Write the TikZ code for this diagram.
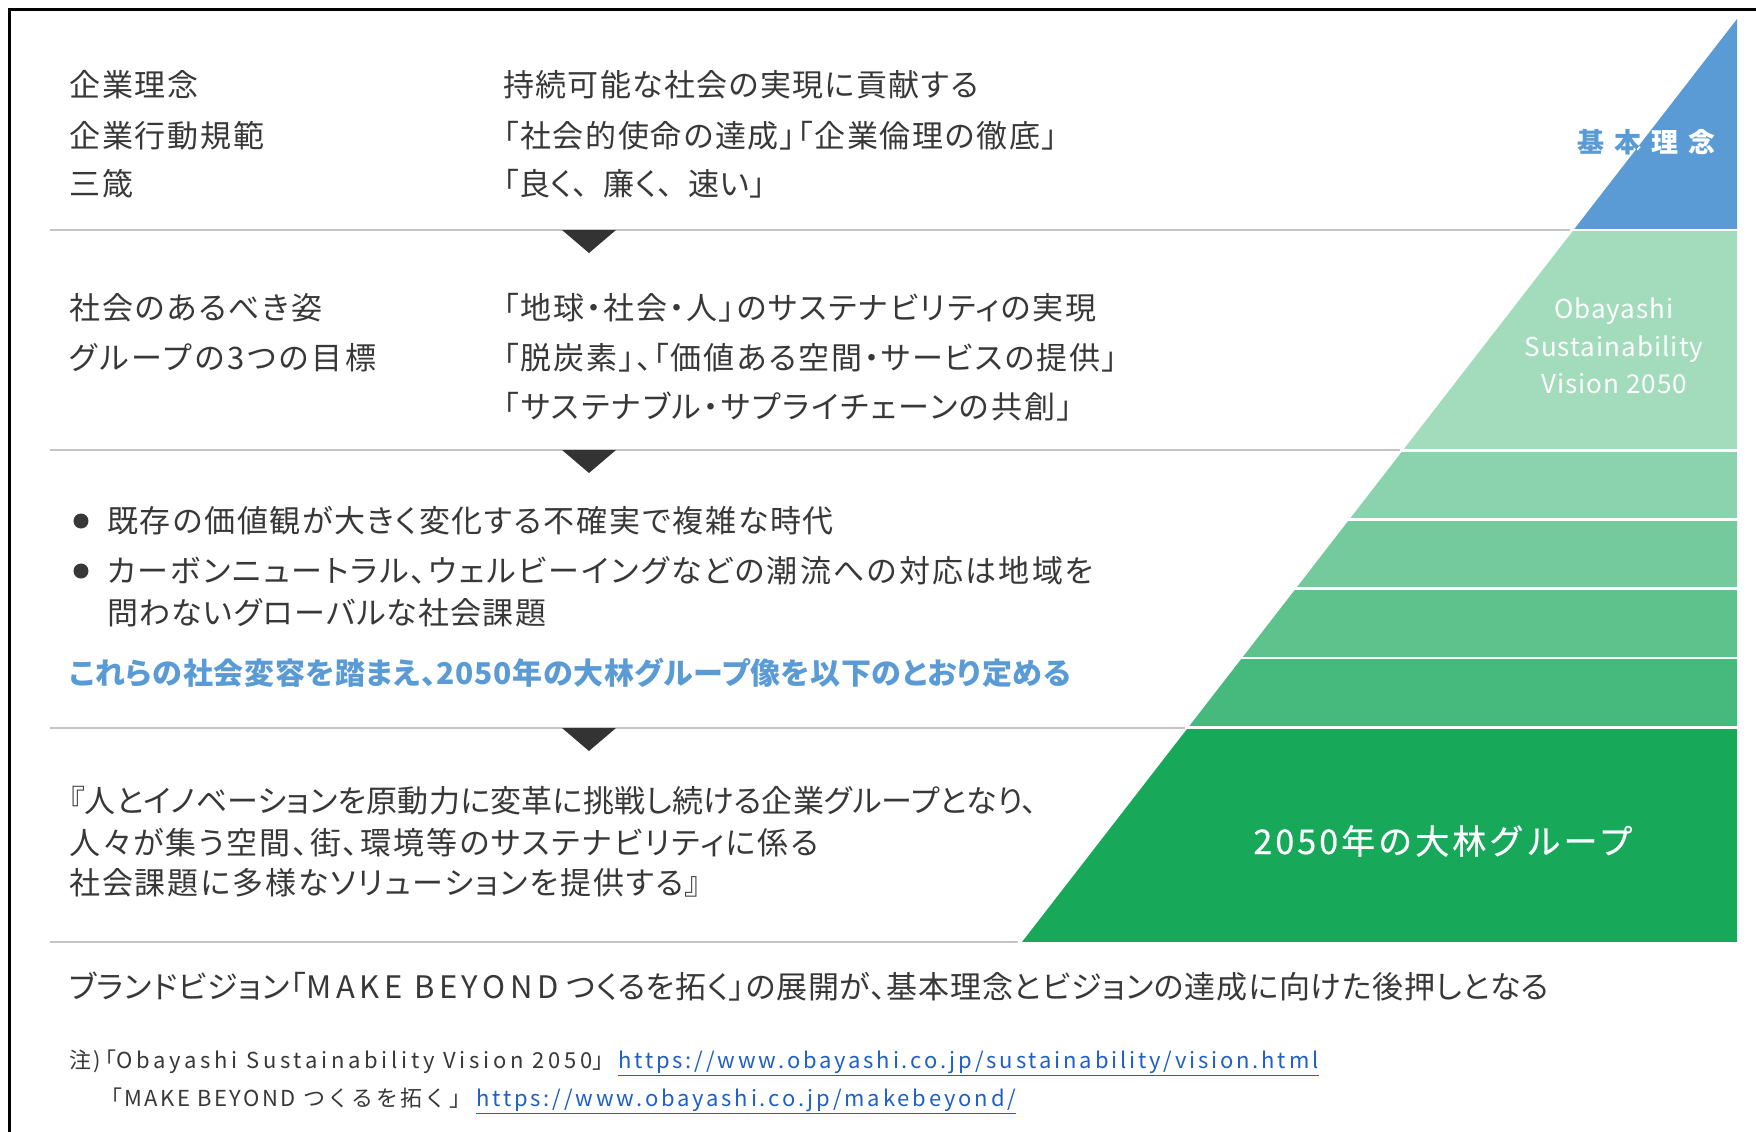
\documentclass[tikz,border=0pt]{standalone}
\usepackage{fontspec}
\setmainfont{Noto Sans CJK JP}
\newfontfamily\jp{Noto Sans CJK JP}[RawFeature=+palt]
\definecolor{txt}{HTML}{383838}
\definecolor{kblue}{HTML}{5B9BD5}
\definecolor{gA}{HTML}{A3DCBD}
\definecolor{gB}{HTML}{8BD3AE}
\definecolor{gC}{HTML}{75CA9D}
\definecolor{gD}{HTML}{5EC28C}
\definecolor{gE}{HTML}{46B97C}
\definecolor{gF}{HTML}{17A85A}
\definecolor{sep}{HTML}{C4C4C4}
\definecolor{arr}{HTML}{333333}
\definecolor{link}{HTML}{1F5FC8}
\newcommand{\ls}[1]{\addfontfeature{LetterSpace=#1}}
\begin{document}
\begin{tikzpicture}[x=1pt,y=-1pt,
  body/.style={anchor=base west,inner sep=0pt,text=txt,font=\jp\fontsize{31}{36}\selectfont},
  note/.style={anchor=base west,inner sep=0pt,text=txt,font=\fontsize{22}{26}\selectfont\addfontfeature{LetterSpace=11}},
  lnk/.style={anchor=base west,inner sep=0pt,text=link,font=\fontsize{22}{26}\selectfont\addfontfeature{LetterSpace=13}},
  bluetxt/.style={anchor=base west,inner sep=0pt,text=kblue,font=\jp\fontsize{30}{36}\selectfont\bfseries},
  kihon/.style={anchor=base,inner sep=0pt,font=\fontsize{27}{30}\selectfont\bfseries},
  vis/.style={anchor=base,inner sep=0pt,text=white,font=\fontsize{26}{30}\selectfont\addfontfeature{LetterSpace=4}},
  big/.style={anchor=base,inner sep=0pt,text=white,font=\fontsize{34}{40}\selectfont\addfontfeature{LetterSpace=9,FakeBold=0.6}},
  sepline/.style={draw=sep,line width=2pt},
  tri/.style={fill=arr}]
\useasboundingbox (0,0) rectangle (1756,1132);
\fill[white] (0,0) rectangle (1756,1132);
% frame
\draw[black,line width=3pt] (9,1132) -- (9,10) -- (1756,10);

% pyramid
\coordinate (apex) at (1737,19);
\coordinate (br) at (1737,942);
\coordinate (bl) at (1022,942);
\begin{scope}
\clip (apex) -- (br) -- (bl) -- cycle;
\fill[kblue] (900,0) rectangle (1756,228.5);
\fill[gA] (900,231) rectangle (1756,448.5);
\fill[gB] (900,451.5) rectangle (1756,518);
\fill[gC] (900,520.5) rectangle (1756,587);
\fill[gD] (900,589.5) rectangle (1756,656.5);
\fill[gE] (900,659) rectangle (1756,725.5);
\fill[gF] (900,728.5) rectangle (1756,942);
\end{scope}

% separators
\draw[sepline] (50,229.5) -- (1570,229.5);
\draw[sepline] (50,449.5) -- (1400,449.5);
\draw[sepline] (50,727.5) -- (1185,727.5);
\draw[sepline] (50,942) -- (1018,942);

% arrows
\fill[tri] (562,230) -- (616,230) -- (589,253) -- cycle;
\fill[tri] (562,450) -- (616,450) -- (589,473) -- cycle;
\fill[tri] (562,728) -- (616,728) -- (589,751) -- cycle;

% section 1
\node[body] (a1) at (69,96) {\ls{6}企業理念};
\node[body] (a2) at (69,147) {\ls{6}企業行動規範};
\node[body] (a3) at (69,195) {\ls{6}三箴};
\node[body] (b1) at (503,96) {\ls{4.4}持続可能な社会の実現に貢献する};
\node[body] (b2) at (503,147) {\ls{5.3}「社会的使命の達成」「企業倫理の徹底」};
\node[body] (b3) at (503,195) {\ls{2}「良く、\kern0.5em廉く、\kern0.5em速い」};

% section 2
\node[body] (c1) at (69,319) {\ls{6.2}社会のあるべき姿};
\node[body] (c2) at (69,369) {\ls{9}グループの3つの目標};
\node[body] (d1) at (503,319) {\ls{5.9}「地球・社会・人」のサステナビリティの実現};
\node[body] (d2) at (503,369) {\ls{5.9}「脱炭素」、「価値ある空間・サービスの提供」};
\node[body] (d3) at (503,418) {\ls{6.6}「サステナブル・サプライチェーンの共創」};

% section 3
\fill[txt] (81,521) circle (7.5);
\fill[txt] (81,571) circle (7.5);
\node[body] (e1) at (107,532) {\ls{5.6}既存の価値観が大きく変化する不確実で複雑な時代};
\node[body] (e2) at (107,582) {\ls{7.2}カーボンニュートラル、ウェルビーイングなどの潮流への対応は地域を};
\node[body] (e3) at (107,624) {\ls{3.9}問わないグローバルな社会課題};
\node[bluetxt] (e4) at (69,684) {\ls{2.3}これらの社会変容を踏まえ、2050年の大林グループ像を以下のとおり定める};

% section 4
\node[body] (f1) at (69,812) {\ls{0.8}『人とイノベーションを原動力に変革に挑戦し続ける企業グループとなり、};
\node[body] (f2) at (69,854) {\ls{6.5}人々が集う空間、街、環境等のサステナビリティに係る};
\node[body] (f3) at (69,894) {\ls{6}社会課題に多様なソリューションを提供する』};

% brand line and notes
\node[body] (g1) at (69,998) {\ls{2.5}ブランドビジョン「{\ls{15}MAKE BEYOND} つくるを拓く」の展開が、基本理念とビジョンの達成に向けた後押しとなる};
\node[note] (n1) at (69,1068) {注)\kern-0.3em「{\ls{17}Obayashi Sustainability Vision 2050}」};
\node[lnk] (l1) at (618,1068) {\underline{https://www.obayashi.co.jp/sustainability/vision.html}};
\node[note] (n2) at (100,1106) {「MAKE BEYOND つくるを拓く」};
\node[lnk] (l2) at (476,1106) {\underline{https://www.obayashi.co.jp/makebeyond/}};

% pyramid labels
\node[kihon,text=kblue] (k1) at (1646,152) {基\kern10pt本\kern10pt理\kern10pt念};
\begin{scope}
\clip (apex) -- (1737,228.5) -- (1575,228.5) -- cycle;
\node[kihon,text=white] (k2) at (1646,152) {基\kern10pt本\kern10pt理\kern10pt念};
\end{scope}
\node[vis] (v1) at (1614,318) {Obayashi};
\node[vis] (v2) at (1614,356) {Sustainability};
\node[vis] (v3) at (1614,393) {Vision 2050};
\node[big] (h1) at (1443,854) {2050年の大林グループ};
\end{tikzpicture}
\end{document}
